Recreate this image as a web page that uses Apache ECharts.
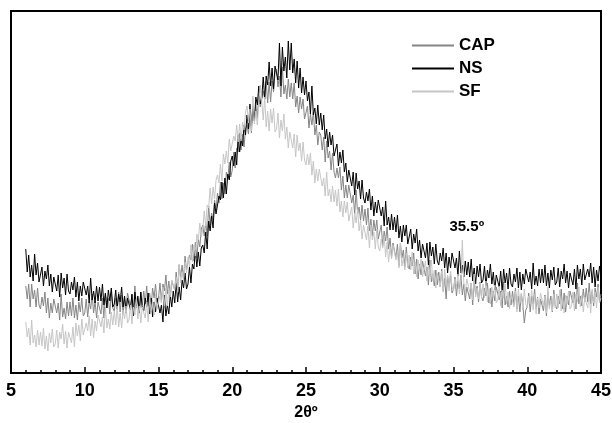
<!DOCTYPE html>
<html>
<head>
<meta charset="utf-8">
<script src="https://cdn.jsdelivr.net/npm/echarts@6/dist/echarts.min.js"></script>
<style>
  html, body { margin: 0; padding: 0; background: #fff; }
  #main { width: 612px; height: 423px; }
</style>
</head>
<body>
<div id="main"></div>
<script>
// 2theta scan, from 6 to 45 deg, one reading every 0.1 deg (10 per row)
var thetaStart = 6;
var thetaStep = 0.1;
var seriesNames = ['CAP', 'NS', 'SF'];

// intensities (arbitrary units)
var capValues = [
  87, 74, 89, 66, 89, 74, 83, 66, 85, 68,
  64, 76, 67, 81, 60, 75, 55, 70, 60, 74,
  74, 60, 70, 53, 79, 56, 65, 54, 71, 57,
  71, 57, 75, 55, 68, 53, 71, 61, 75, 57,
  60, 74, 56, 72, 64, 79, 60, 72, 55, 71,
  71, 59, 75, 55, 79, 65, 75, 59, 81, 65,
  62, 75, 67, 81, 61, 78, 59, 75, 65, 80,
  81, 67, 78, 61, 87, 65, 75, 64, 81, 68,
  82, 69, 87, 67, 80, 66, 85, 75, 89, 71,
  75, 90, 72, 89, 82, 98, 79, 92, 76, 92,
  93, 83, 101, 82, 108, 96, 108, 94, 117, 103,
  102, 118, 113, 129, 112, 131, 115, 134, 126, 144,
  148, 137, 151, 137, 167, 148, 160, 153, 173, 163,
  180, 170, 191, 174, 190, 179, 201, 194, 211, 196,
  203, 221, 205, 225, 221, 240, 223, 239, 226, 244,
  248, 239, 258, 240, 267, 256, 268, 255, 279, 266,
  264, 282, 274, 292, 270, 291, 271, 292, 281, 301,
  304, 286, 297, 276, 306, 279, 288, 274, 294, 276,
  290, 274, 290, 266, 277, 260, 276, 264, 274, 254,
  255, 267, 245, 259, 248, 261, 238, 248, 228, 241,
  238, 223, 236, 211, 232, 215, 222, 203, 220, 201,
  195, 205, 195, 206, 183, 197, 175, 188, 175, 188,
  186, 170, 178, 159, 183, 159, 166, 153, 168, 152,
  164, 148, 165, 142, 154, 137, 153, 142, 153, 134,
  135, 148, 127, 142, 132, 146, 124, 135, 116, 130,
  128, 115, 129, 107, 130, 115, 123, 106, 126, 108,
  104, 116, 107, 120, 99, 114, 94, 109, 98, 112,
  112, 97, 106, 88, 113, 91, 99, 87, 103, 88,
  101, 86, 104, 82, 95, 74, 97, 86, 99, 80,
  83, 96, 77, 92, 84, 98, 78, 89, 72, 86,
  86, 74, 90, 68, 93, 78, 87, 71, 91, 76,
  72, 85, 77, 90, 70, 85, 66, 82, 72, 86,
  87, 73, 82, 65, 91, 68, 77, 66, 82, 68,
  82, 68, 85, 64, 77, 61, 79, 69, 50, 63,
  66, 80, 61, 77, 69, 84, 64, 76, 59, 74,
  74, 62, 78, 57, 81, 67, 77, 61, 83, 67,
  64, 77, 69, 84, 64, 80, 61, 77, 68, 82,
  84, 70, 81, 64, 90, 69, 77, 67, 84, 71,
  85, 71, 90, 69, 82, 67, 85, 76, 89, 71,
  79
];
var nsValues = [
  124, 101, 118, 96, 108, 92, 119, 98, 110, 91,
  93, 106, 87, 102, 94, 108, 87, 99, 81, 96,
  95, 82, 98, 76, 100, 85, 95, 78, 99, 82,
  79, 91, 83, 96, 76, 91, 72, 87, 77, 91,
  92, 78, 87, 70, 95, 73, 82, 70, 87, 72,
  86, 72, 89, 68, 80, 65, 83, 72, 85, 66,
  69, 83, 64, 79, 71, 86, 66, 77, 60, 75,
  75, 63, 79, 57, 81, 67, 77, 60, 81, 65,
  62, 75, 66, 80, 59, 75, 56, 71, 61, 75,
  76, 60, 68, 51, 78, 57, 68, 59, 78, 66,
  82, 70, 90, 71, 86, 73, 93, 85, 100, 84,
  89, 106, 90, 109, 104, 123, 106, 121, 107, 125,
  128, 120, 141, 124, 152, 142, 157, 145, 170, 159,
  160, 177, 173, 191, 175, 195, 179, 199, 193, 212,
  217, 207, 221, 208, 238, 221, 234, 227, 248, 238,
  258, 244, 269, 247, 267, 252, 276, 268, 287, 269,
  275, 296, 274, 297, 288, 311, 287, 305, 284, 307,
  309, 293, 330, 287, 326, 302, 316, 295, 332, 303,
  330, 300, 314, 290, 312, 285, 305, 280, 296, 278,
  292, 272, 281, 259, 287, 258, 265, 249, 268, 248,
  260, 243, 258, 234, 244, 226, 241, 228, 238, 217,
  217, 229, 207, 221, 210, 223, 201, 210, 191, 203,
  201, 187, 201, 178, 200, 184, 192, 174, 193, 175,
  170, 181, 172, 184, 163, 177, 157, 171, 160, 173,
  173, 157, 166, 147, 172, 148, 156, 143, 159, 143,
  156, 141, 158, 135, 147, 131, 148, 137, 148, 129,
  131, 144, 124, 139, 130, 144, 122, 133, 115, 129,
  128, 115, 130, 108, 131, 117, 126, 109, 129, 112,
  108, 120, 112, 125, 105, 120, 100, 116, 105, 120,
  120, 105, 115, 97, 122, 100, 108, 96, 112, 98,
  111, 96, 114, 92, 105, 89, 107, 96, 109, 90,
  93, 107, 87, 103, 95, 109, 89, 101, 83, 98,
  98, 86, 102, 81, 104, 90, 100, 84, 105, 89,
  86, 99, 91, 105, 85, 101, 83, 99, 89, 104,
  105, 91, 101, 84, 110, 88, 97, 87, 104, 90,
  104, 90, 108, 87, 100, 85, 103, 93, 106, 88,
  91, 105, 86, 102, 94, 109, 90, 102, 85, 100,
  100, 88, 104, 84, 108, 94, 104, 88, 109, 93,
  91, 104, 96, 110, 90, 106, 86, 103, 92, 107,
  98
];
var sfValues = [
  51, 36, 45, 28, 53, 30, 38, 26, 43, 28,
  41, 27, 45, 24, 37, 22, 40, 30, 44, 26,
  29, 43, 25, 41, 34, 49, 29, 42, 25, 41,
  41, 30, 46, 26, 50, 37, 48, 32, 54, 38,
  36, 50, 42, 57, 37, 54, 35, 52, 42, 58,
  59, 46, 56, 40, 66, 45, 54, 44, 61, 48,
  62, 48, 67, 46, 60, 45, 63, 54, 67, 50,
  53, 68, 49, 66, 58, 74, 54, 67, 50, 66,
  66, 55, 71, 51, 76, 62, 73, 58, 79, 64,
  62, 77, 70, 86, 67, 85, 67, 85, 76, 93,
  95, 83, 96, 81, 109, 90, 101, 92, 111, 100,
  116, 106, 128, 111, 128, 117, 139, 133, 150, 136,
  143, 162, 147, 168, 165, 185, 169, 186, 174, 193,
  198, 190, 209, 192, 219, 209, 222, 210, 234, 222,
  222, 237, 232, 248, 231, 249, 232, 251, 243, 261,
  267, 250, 264, 242, 277, 249, 262, 248, 270, 288,
  272, 253, 276, 246, 262, 242, 264, 250, 265, 241,
  244, 260, 235, 253, 242, 259, 234, 246, 225, 241,
  239, 225, 239, 216, 238, 222, 230, 212, 231, 213,
  208, 219, 208, 220, 198, 212, 190, 204, 192, 204,
  203, 187, 195, 177, 201, 177, 184, 171, 187, 171,
  183, 167, 184, 161, 172, 156, 172, 160, 171, 152,
  153, 166, 145, 160, 150, 164, 142, 153, 134, 148,
  146, 133, 147, 125, 148, 133, 141, 124, 144, 126,
  122, 134, 125, 137, 116, 131, 111, 126, 114, 128,
  128, 113, 122, 105, 130, 107, 115, 103, 120, 105,
  118, 103, 121, 99, 111, 96, 113, 103, 114, 96,
  98, 112, 92, 108, 99, 113, 92, 103, 85, 100,
  99, 86, 102, 81, 104, 89, 98, 82, 102, 86,
  82, 94, 86, 99, 79, 94, 133, 90, 80, 94,
  95, 81, 90, 73, 99, 76, 85, 74, 90, 75,
  89, 75, 92, 71, 84, 69, 86, 76, 88, 70,
  73, 87, 67, 83, 75, 89, 69, 81, 64, 78,
  78, 66, 82, 61, 84, 70, 80, 63, 84, 69,
  65, 77, 69, 83, 63, 79, 59, 75, 65, 80,
  81, 67, 77, 60, 86, 64, 73, 62, 79, 65,
  79, 65, 83, 62, 75, 60, 78, 69, 82, 64,
  67, 81, 62, 79, 71, 86, 66, 78, 61, 76,
  77, 65, 81, 60, 84, 70, 81, 65, 86, 70,
  75
];
var peakLabel = { text: '35.5º', x: 35.9, y: 146 };

function pairs(vals) {
  return vals.map(function (v, i) {
    return [+(thetaStart + i * thetaStep).toFixed(1), v];
  });
}

var chart = echarts.init(document.getElementById('main'));
var colors = ['#858585', '#000000', '#c6c6c6'];
var allValues = [capValues, nsValues, sfValues];
var font = 'Liberation Sans, Arial, sans-serif';

var series = seriesNames.map(function (name, k) {
  return {
    name: name,
    type: 'line',
    data: pairs(allValues[k]),
    showSymbol: false,
    symbol: 'none',
    lineStyle: { color: colors[k], width: 1 },
    itemStyle: { color: colors[k] },
    z: 2 + k
  };
});
series[2].markPoint = {
  symbol: 'circle',
  symbolSize: 1,
  itemStyle: { color: 'rgba(0,0,0,0)' },
  label: {
    show: true, position: 'inside', formatter: peakLabel.text,
    color: '#000', fontWeight: 'bold', fontSize: 15, fontFamily: font
  },
  data: [{ coord: [peakLabel.x, peakLabel.y] }]
};

option = {
  animation: false,
  backgroundColor: '#fff',
  grid: {
    left: 11, right: 11, top: 11, bottom: 50,
    outerBoundsMode: 'none',
    show: true, borderColor: '#000', borderWidth: 2
  },
  legend: {
    orient: 'vertical',
    left: 407, top: 32,
    icon: 'rect',
    itemWidth: 42, itemHeight: 2,
    itemGap: 6,
    textStyle: {
      color: '#000', fontWeight: 'bold', fontSize: 17, lineHeight: 17,
      fontFamily: font
    },
    data: seriesNames
  },
  xAxis: {
    type: 'value',
    min: 5, max: 45, interval: 5,
    name: '2θº',
    nameLocation: 'middle',
    nameGap: 30,
    nameTextStyle: { color: '#000', fontWeight: 'bold', fontSize: 16, fontFamily: font },
    axisLine: { lineStyle: { color: '#000', width: 2 } },
    axisTick: { inside: true, length: 6, lineStyle: { color: '#000', width: 1.5 } },
    minorTick: { show: true, splitNumber: 5, length: 3, lineStyle: { color: '#000', width: 1.5 } },
    axisLabel: {
      margin: 9, color: '#000', fontWeight: 'bold', fontSize: 18,
      fontFamily: font, showMinLabel: true, showMaxLabel: true
    },
    splitLine: { show: false }
  },
  yAxis: {
    type: 'value',
    min: 0, max: 362,
    axisLine: { show: false },
    axisTick: { show: false },
    axisLabel: { show: false },
    splitLine: { show: false }
  },
  series: series
};
chart.setOption(option);
</script>
</body>
</html>
